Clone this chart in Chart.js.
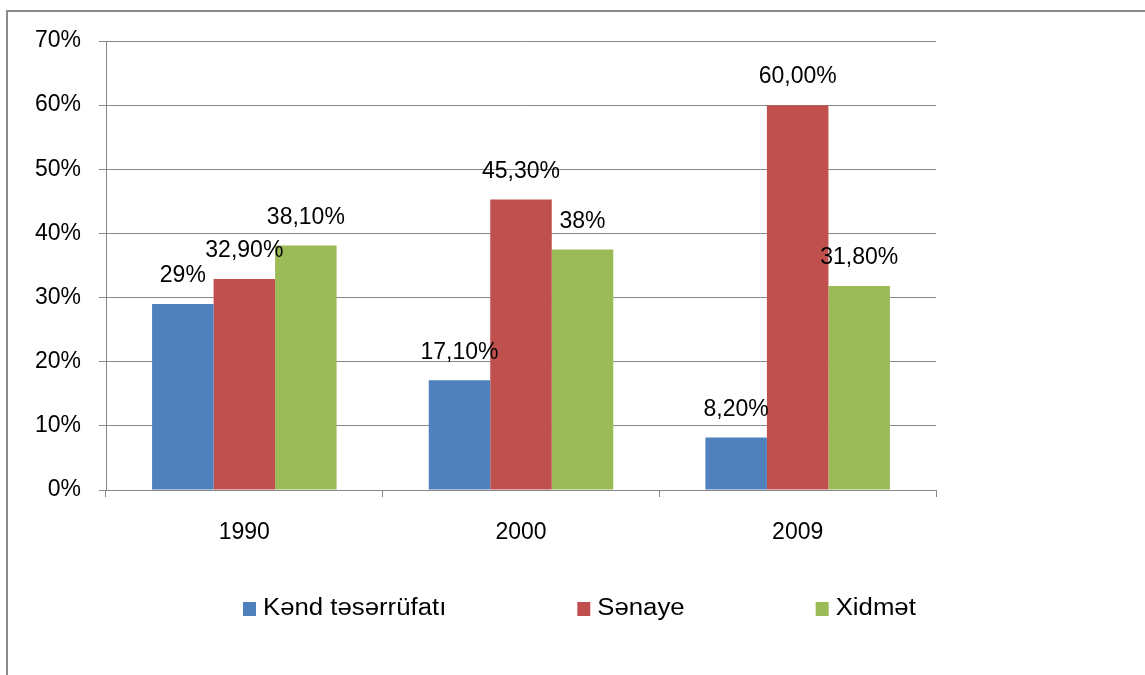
<!DOCTYPE html>
<html>
<head>
<meta charset="utf-8">
<script src="https://cdn.jsdelivr.net/npm/chart.js@4.4.1/dist/chart.umd.min.js"></script>
<style>
  body { margin: 0; overflow: hidden; background: #fff; }
  #wrap { position: relative; width: 1145px; height: 675px; }
  #frame { position: absolute; left: 6px; top: 10px; width: 2000px; height: 2000px;
           border-top: 2px solid #8a8a8a; border-left: 2px solid #8a8a8a; }
  canvas { position: absolute; left: 0; top: 0; }
</style>
</head>
<body>
<div id="wrap">
  <div id="frame"></div>
  <canvas id="chart" width="1145" height="675"></canvas>
</div>
<script>
const years = ['1990', '2000', '2009'];
const seriesNames = ['Kənd təsərrüfatı', 'Sənaye', 'Xidmət'];
const kend = [29, 17.1, 8.2];
const senaye = [32.9, 45.3, 60];
const xidmet = [38.1, 37.5, 31.8];
const kendLabels = ['29%', '17,10%', '8,20%'];
const senayeLabels = ['32,90%', '45,30%', '60,00%'];
const xidmetLabels = ['38,10%', '38%', '31,80%'];
const colors = ['#4F81BD', '#C0504D', '#9BBB59'];

const gridGray = '#878787';
const font = 'Liberation Sans, Arial, sans-serif';

// value labels above the bars
const barLabels = {
    id: 'barLabels',
    afterDatasetsDraw(chart) {
        const ctx = chart.ctx;
        ctx.save();
        ctx.font = '23px ' + font;
        ctx.fillStyle = '#000';
        ctx.textAlign = 'center';
        ctx.textBaseline = 'middle';
        chart.data.datasets.forEach((ds, i) => {
            chart.getDatasetMeta(i).data.forEach((bar, j) => {
                ctx.fillText(ds.valueLabels[j], bar.x, bar.y - 28);
            });
        });
        ctx.restore();
    }
};

// legend drawn under the axis, spaced like the original
const wideLegend = {
    id: 'wideLegend',
    afterDraw(chart) {
        const ctx = chart.ctx;
        const stretch = 1.12;
        let x = 243;
        const y = 609;
        ctx.save();
        ctx.font = '23px ' + font;
        ctx.textBaseline = 'middle';
        chart.data.datasets.forEach(ds => {
            ctx.fillStyle = ds.backgroundColor;
            ctx.fillRect(x, y - 7, 13, 14);
            ctx.fillStyle = '#000';
            const tx = x + 20;
            ctx.save();
            ctx.translate(tx, y);
            ctx.scale(stretch, 1);
            ctx.fillText(ds.label, 0, 0);
            ctx.restore();
            x = tx + ctx.measureText(ds.label).width * stretch + 131;
        });
        ctx.restore();
    }
};

const ctx = document.getElementById('chart').getContext('2d');
new Chart(ctx, {
    type: 'bar',
    data: {
        labels: years,
        datasets: [
            { label: seriesNames[0], data: kend, valueLabels: kendLabels, backgroundColor: colors[0] },
            { label: seriesNames[1], data: senaye, valueLabels: senayeLabels, backgroundColor: colors[1] },
            { label: seriesNames[2], data: xidmet, valueLabels: xidmetLabels, backgroundColor: colors[2] }
        ]
    },
    options: {
        responsive: false,
        animation: false,
        devicePixelRatio: 1,
        layout: { padding: { top: 41, left: 0, right: 209, bottom: 125 } },
        datasets: { bar: { categoryPercentage: 0.667, barPercentage: 1 } },
        plugins: {
            legend: { display: false },
            tooltip: { enabled: false }
        },
        scales: {
            x: {
                grid: { color: gridGray, drawOnChartArea: false, tickLength: 7, offset: true },
                border: { color: gridGray, width: 1 },
                ticks: { color: '#000', padding: 22, font: { family: font, size: 23 } },
                afterFit: s => { s.height = 60; }
            },
            y: {
                min: 0,
                max: 70,
                grid: { color: gridGray, tickLength: 7 },
                border: { color: gridGray, width: 1 },
                ticks: {
                    stepSize: 10,
                    color: '#000',
                    padding: 18,
                    font: { family: font, size: 23 },
                    callback: v => v + '%'
                },
                afterFit: s => { s.width = 106; }
            }
        }
    },
    plugins: [barLabels, wideLegend]
});
</script>
</body>
</html>
